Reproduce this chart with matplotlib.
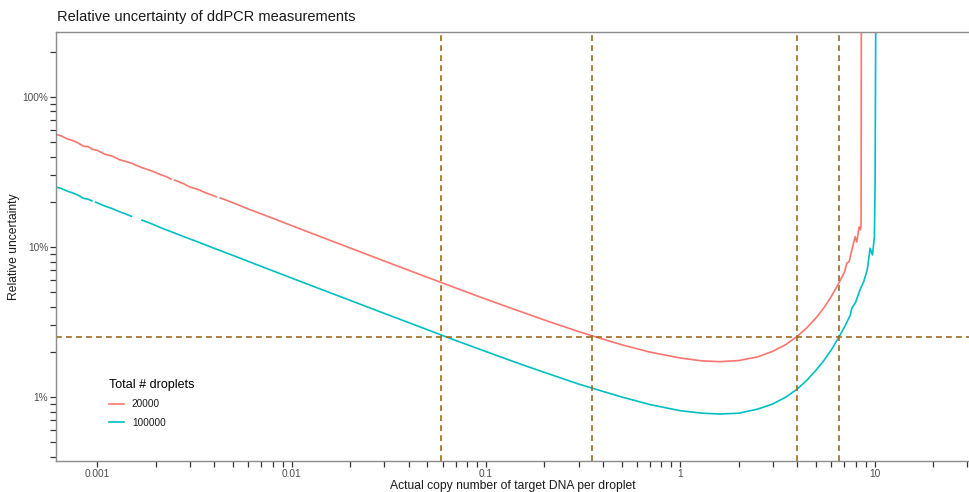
import numpy as np
import matplotlib
matplotlib.use("Agg")
import matplotlib.pyplot as plt
from matplotlib.ticker import LogLocator, FixedLocator, FuncFormatter, NullFormatter

plt.rcParams['font.family'] = ['Liberation Sans', 'DejaVu Sans']

# ---- data ----
x_20000 = [0.0006, 0.00065, 0.0007, 0.00075, 0.0008, 0.00085, 0.0009, 0.00095, 0.001, 0.0011,
           0.0012, 0.0013, 0.0014, 0.0015, 0.0017, 0.0019, 0.0021, 0.0023, 0.0024, 0.00245, 0.0025, 0.0026,
           0.0028, 0.003, 0.0033, 0.0036, 0.004, 0.0041, 0.0042, 0.0043, 0.0044, 0.005, 0.006, 0.007,
           0.008, 0.01, 0.015, 0.02, 0.03, 0.05, 0.07, 0.1, 0.15, 0.2, 0.3, 0.4, 0.5,
           0.7, 1.0, 1.3, 1.6, 2.0, 2.5, 3.0, 3.5, 4.0, 4.5, 5.0, 5.5, 6.0, 6.5, 7.0,
           7.2, 7.4, 7.63, 7.94, 8.1, 8.32, 8.45, 8.52, 8.55]
y_20000 = [0.566, 0.552, 0.526, 0.512, 0.492, 0.470, 0.466, 0.446, 0.441, 0.414,
           0.403, 0.382, 0.372, 0.362, 0.338, 0.322, 0.305, 0.292, 0.283, np.nan, 0.279, 0.274,
           0.263, 0.251, 0.242, 0.230, 0.219, 0.216, np.nan, 0.212, 0.210, 0.197, 0.179, 0.166,
           0.1555, 0.1389, 0.1136, 0.0985, 0.0806, 0.0628, 0.0533, 0.0449, 0.0372, 0.0326, 0.0273, 0.0243, 0.0223,
           0.0199, 0.0182, 0.0174, 0.0172, 0.0175, 0.0185, 0.0202, 0.0224, 0.0254, 0.0291, 0.0337, 0.0395, 0.0470, 0.0565, 0.0680,
           0.078, 0.080, 0.095, 0.117, 0.108, 0.136, 0.130, 0.140, 5.0]

x_100000 = [0.0006, 0.00065, 0.0007, 0.00075, 0.0008, 0.00085, 0.0009, 0.00094, 0.00096, 0.00098, 0.001, 0.0011,
            0.0012, 0.0013, 0.0014, 0.0015, 0.0016, 0.0017, 0.0019, 0.0022, 0.0025, 0.0028, 0.0033,
            0.004, 0.005, 0.006, 0.008, 0.01, 0.015, 0.02, 0.03, 0.05, 0.07, 0.1, 0.15,
            0.2, 0.3, 0.4, 0.5, 0.7, 1.0, 1.3, 1.6, 2.0, 2.5, 3.0, 3.5, 4.0, 4.5, 5.0,
            5.5, 6.0, 6.5, 7.0, 7.5, 7.63, 8.0, 8.42, 8.8, 9.18, 9.48, 9.75, 9.98, 10.06, 10.15]
y_100000 = [0.253, 0.246, 0.236, 0.229, 0.221, 0.211, 0.208, 0.203, np.nan, 0.199, 0.197, 0.187,
            0.180, 0.172, 0.166, 0.160, np.nan, 0.151, 0.143, 0.132, 0.124, 0.117, 0.108,
            0.098, 0.0878, 0.0801, 0.0694, 0.0621, 0.0508, 0.0441, 0.0361, 0.0281, 0.0238, 0.0201, 0.0166,
            0.0146, 0.0122, 0.0109, 0.0100, 0.0089, 0.0081, 0.0078, 0.0077, 0.0078, 0.0083, 0.0090, 0.0100, 0.0113, 0.0130, 0.0151,
            0.0176, 0.0207, 0.0246, 0.0293, 0.0351, 0.039, 0.043, 0.052, 0.059, 0.071, 0.098, 0.0885, 0.117, 0.28, 5.0]

series_labels = ["20000", "100000"]
vlines_x = [0.059, 0.353, 3.99, 6.55]
hline_y = 0.0252
x_major = [0.001, 0.01, 0.1, 1, 10]
x_major_labels = ["0.001", "0.01", "0.1", "1", "10"]
x_minor = [m * d for d in [0.001, 0.01, 0.1, 1, 10] for m in range(2, 10)]

# ---- figure ----
fig = plt.figure(figsize=(9.69, 4.92), dpi=100)
ax = fig.add_axes([56/969, 1 - 461/492, 1 - 56/969, (461 - 32)/492])

c20, c100 = "#F8766D", "#00BFC4"
ax.plot(x_20000, y_20000, color=c20, lw=1.2, label=series_labels[0], solid_joinstyle='round')
ax.plot(x_100000, y_100000, color=c100, lw=1.2, label=series_labels[1], solid_joinstyle='round')

dcol = "#A0681C"
for xv in vlines_x:
    ax.axvline(xv, color=dcol, lw=1.2, ls=(0, (3.5, 2.5)))
ax.axhline(hline_y, color=dcol, lw=1.2, ls=(0, (3.5, 2.5)))

ax.set_xscale('log')
ax.set_yscale('log')
ax.set_xlim(0.000614, 30.6)
ax.set_ylim(0.003745, 2.71)

ax.xaxis.set_major_locator(FixedLocator(x_major))
ax.xaxis.set_major_formatter(FuncFormatter(
    lambda v, p: x_major_labels[int(round(np.log10(v))) + 3] if v > 0 else ""))
ax.xaxis.set_minor_locator(FixedLocator(x_minor))
ax.xaxis.set_minor_formatter(NullFormatter())
ax.yaxis.set_major_locator(FixedLocator([0.01, 0.1, 1.0]))
ax.yaxis.set_major_formatter(FuncFormatter(lambda v, p: f"{v*100:.0f}%"))
ax.yaxis.set_minor_locator(LogLocator(base=10, subs=np.arange(2, 10), numticks=20))
ax.yaxis.set_minor_formatter(NullFormatter())

ax.tick_params(which='both', direction='out', length=4, width=0.9, color='#333333',
               labelsize=7.3, labelcolor='#4D4D4D', pad=1.5)

for s in ['left', 'bottom', 'top']:
    ax.spines[s].set_color('#8c8c8c')
    ax.spines[s].set_linewidth(1.0)
ax.spines['right'].set_visible(False)

ax.set_xlabel("Actual copy number of target DNA per droplet", fontsize=8.7, color='#1a1a1a', labelpad=1)
ax.set_ylabel("Relative uncertainty", fontsize=8.7, color='#1a1a1a', labelpad=2)
fig.text(57/969, 1 - 17/492, "Relative uncertainty of ddPCR measurements", fontsize=10.5,
         color='#1a1a1a', ha='left', va='center')

leg = ax.legend(loc='upper left', bbox_to_anchor=(0.048, 0.213), frameon=False,
                title="Total # droplets", fontsize=7.2, title_fontsize=9,
                handlelength=1.5, handletextpad=0.8, labelspacing=0.85)
leg._legend_box.align = "left"
for t in leg.get_texts():
    t.set_color('#1a1a1a')

fig.savefig("out.png", dpi=100)
